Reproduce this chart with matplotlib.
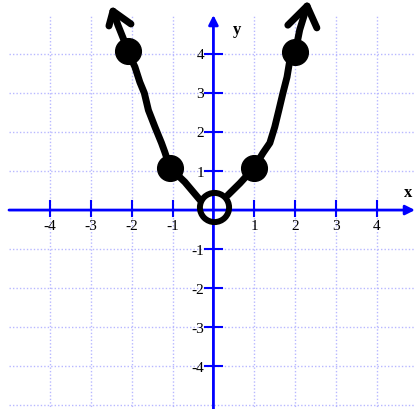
import matplotlib.pyplot as plt

# traced curve (data units)
left_x = [-2.457, -2.335, -2.19, -2.10, -1.92, -1.80, -1.69, -1.59, -1.43, -1.27, -1.19, -1.06, -0.70, -0.33]
left_y = [5.10, 4.74, 4.36, 4.07, 3.67, 3.28, 3.00, 2.56, 2.13, 1.72, 1.49, 1.08, 0.72, 0.26]
right_x = [0.355, 0.65, 0.99, 1.21, 1.38, 1.50, 1.60, 1.70, 1.80, 1.87, 2.00, 2.11, 2.29]
right_y = [0.385, 0.69, 1.08, 1.46, 1.72, 2.13, 2.56, 3.00, 3.41, 3.85, 4.04, 4.62, 5.23]

# arrow heads on the curve ends: prong, tip, prong
head_left_x = [-2.555, -2.457, -2.017]
head_left_y = [4.72, 5.10, 4.77]
head_right_x = [1.82, 2.29, 2.53]
head_right_y = [4.74, 5.23, 4.67]

# plotted points
dot_x = [-2.10, -1.06, 0.99, 2.00]
dot_y = [4.07, 1.08, 1.08, 4.04]
open_x = [0.01]
open_y = [0.08]

ticks = [-4, -3, -2, -1, 1, 2, 3, 4]
tick_labels = ["-4", "-3", "-2", "-1", "1", "2", "3", "4"]

blue = "#0000ff"
grid_c = "#b8b8ff"
serif = "Liberation Serif"

fig = plt.figure(figsize=(4.15, 4.09), dpi=100)
ax = fig.add_axes([0, 0, 1, 1])
ax.set_xlim(-5.22, 4.93)
ax.set_ylim(-5.10, 5.385)
ax.axis("off")

# dotted grid
for g in ticks:
    ax.plot([g, g], [-5.2, 5.0], color=grid_c, lw=1, ls=(0, (1, 1.5)), zorder=1)
for g in ticks + [-5]:
    ax.plot([-5, 5], [g, g], color=grid_c, lw=1, ls=(0, (1, 1.5)), zorder=1)

# axes with arrows
arrow = dict(arrowstyle="-|>", color=blue, lw=2, mutation_scale=14, shrinkA=0, shrinkB=0)
ax.annotate("", xy=(4.93, 0), xytext=(-5, 0), arrowprops=arrow,
            annotation_clip=False, zorder=2)
ax.annotate("", xy=(0, 5.0), xytext=(0, -5.2), arrowprops=arrow,
            annotation_clip=False, zorder=2)

# tick marks and labels
for t, lab in zip(ticks, tick_labels):
    ax.plot([t, t], [-0.14, 0.23], color=blue, lw=1.5, zorder=2)
    ax.plot([-0.2, 0.2], [t, t], color=blue, lw=1.5, zorder=2)
    ax.text(t, -0.42, lab, ha="center", va="center", fontsize=11, family=serif)
    ax.text(-0.23, t - 0.05, lab, ha="right", va="center", fontsize=11, family=serif)

ax.text(4.76, 0.44, "x", ha="center", va="center", fontsize=12, fontweight="bold", family=serif)
ax.text(0.57, 4.62, "y", ha="center", va="center", fontsize=12, fontweight="bold", family=serif)

# the curve
kw = dict(color="k", lw=5, solid_capstyle="round", solid_joinstyle="round", zorder=3)
ax.plot(left_x, left_y, **kw)
ax.plot(right_x, right_y, **kw)
ax.plot(head_left_x, head_left_y, **kw)
ax.plot(head_right_x, head_right_y, **kw)

ax.plot(dot_x, dot_y, "o", color="k", ms=18.5, zorder=4)
ax.plot(open_x, open_y, "o", mfc="none", mec="k", mew=4.3, ms=21, zorder=4)

fig.savefig("out.png", dpi=100)
